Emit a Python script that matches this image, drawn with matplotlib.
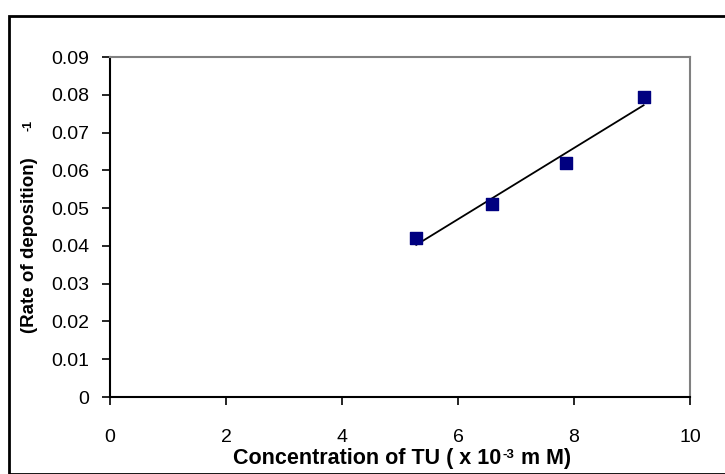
import numpy as np
import matplotlib
matplotlib.use("Agg")
import matplotlib.pyplot as plt
from matplotlib.patches import Rectangle

conc = [5.28, 6.58, 7.87, 9.2]
rate_inv = [0.0422, 0.051, 0.062, 0.0795]
xticks = [0, 2, 4, 6, 8, 10]
yticks = [0, 0.01, 0.02, 0.03, 0.04, 0.05, 0.06, 0.07, 0.08, 0.09]

W, H = 725, 474
fig = plt.figure(figsize=(W/100, H/100), dpi=100)
plt.rcParams['font.family'] = ['Liberation Sans', 'DejaVu Sans']

# outer chart frame
fig.patches.append(Rectangle((9/W, 0), 1.2, 1 - 16/H, transform=fig.transFigure,
                             fill=False, edgecolor='black', linewidth=2, clip_on=False))

ax = fig.add_axes([110/W, 1 - 397/H, 580/W, 340/H])
ax.scatter(conc, rate_inv, marker='s', s=64, color='#000080', zorder=3)
coef = np.polyfit(conc, rate_inv, 1)
xs = np.array([conc[0], conc[-1]])
ax.plot(xs, np.polyval(coef, xs), color='black', linewidth=1.3, zorder=2)

ax.set_xlim(0, 10)
ax.set_ylim(0, 0.09)
ax.set_xticks(xticks)
ax.set_xticklabels([str(v) for v in xticks])
ax.set_yticks(yticks)
ax.set_yticklabels(['0'] + ['%.2f' % v for v in yticks[1:]])
ax.tick_params(axis='both', direction='out', length=6, width=1.2, labelsize=14)
ax.tick_params(axis='x', pad=17)
ax.tick_params(axis='y', pad=9)
for s in ['left', 'bottom']:
    ax.spines[s].set_color('black')
    ax.spines[s].set_linewidth(1.5)
for s in ['top', 'right']:
    ax.spines[s].set_color('#808080')
    ax.spines[s].set_linewidth(1.5)

# x label built from pieces (superscript -3)
renderer = fig.canvas.get_renderer()
parts = [('Concentration of TU ( x 10', 15.5, 0), ('-3', 9.5, 6), (' m M)', 15.5, 0)]
texts = []
for s, fs, dy in parts:
    t = fig.text(0, 0, s, ha='left', va='baseline', fontsize=fs, fontweight='bold')
    texts.append((t, dy))
widths = [t.get_window_extent(renderer).width for t, _ in texts]
total = sum(widths) + 2
x0 = 402 - total / 2
base = 464
for (t, dy), w in zip(texts, widths):
    t.set_position((x0 / W, 1 - (base - dy) / H))
    x0 += w + 1

fig.text(30/W, 1 - 245/H, '(Rate of deposition)', rotation=90, ha='center', va='center',
         fontsize=13.5, fontweight='bold')
fig.text(28/W, 1 - 125/H, '-1', rotation=90, ha='center', va='center',
         fontsize=9, fontweight='bold')

fig.savefig('out.png', dpi=100)
